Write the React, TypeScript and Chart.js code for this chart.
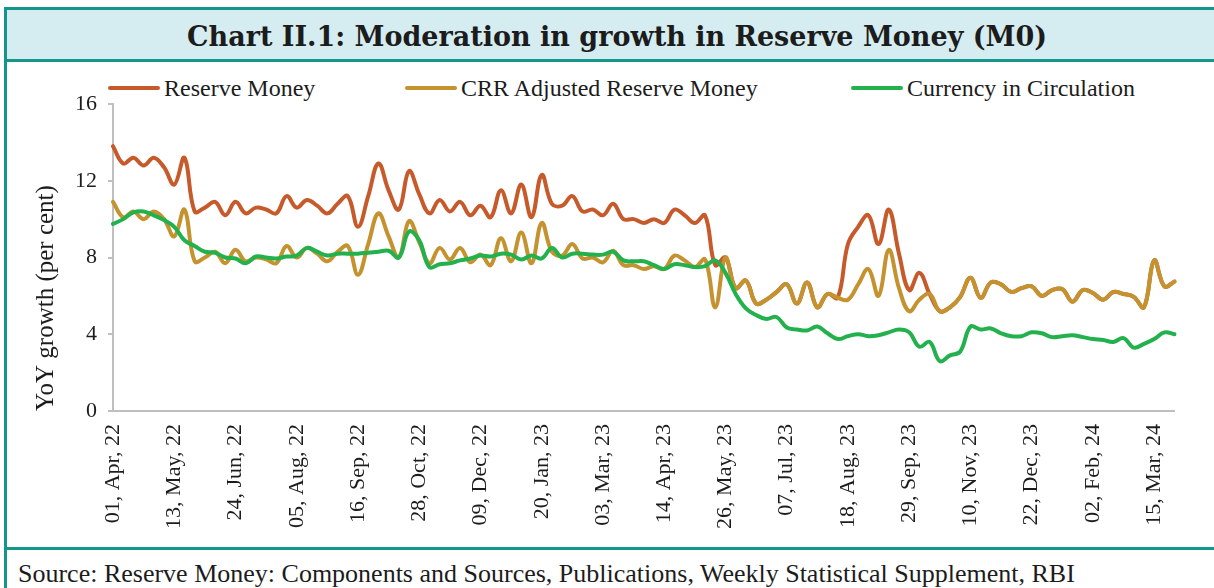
import React, { useEffect, useRef } from 'react';
import { Chart, registerables } from 'chart.js';

Chart.register(...registerables);

// ---------- data ----------
const MONTHS = ['Jan', 'Feb', 'Mar', 'Apr', 'May', 'Jun', 'Jul', 'Aug', 'Sep', 'Oct', 'Nov', 'Dec'];
const WEEK_COUNT = 105;
// weekly reporting Fridays, starting 01 Apr 2022
const categories: string[] = Array.from({ length: WEEK_COUNT }, (_, i) => {
  const d = new Date(Date.UTC(2022, 3, 1 + 7 * i));
  const dd = String(d.getUTCDate()).padStart(2, '0');
  const yy = String(d.getUTCFullYear()).slice(2);
  return `${dd}, ${MONTHS[d.getUTCMonth()]}, ${yy}`;
});

const tickLabels = [
  '01, Apr, 22', '13, May, 22', '24, Jun, 22', '05, Aug, 22', '16, Sep, 22', '28, Oct, 22',
  '09, Dec, 22', '20, Jan, 23', '03, Mar, 23', '14, Apr, 23', '26, May, 23', '07, Jul, 23',
  '18, Aug, 23', '29, Sep, 23', '10, Nov, 23', '22, Dec, 23', '02, Feb, 24', '15, Mar, 24',
];

const reserveMoney = [
  13.8, 12.9, 13.2, 12.8, 13.2, 12.7, 11.8, 13.2, 10.4, 10.6,
  10.9, 10.2, 10.9, 10.3, 10.6, 10.5, 10.3, 11.2, 10.6, 11.0,
  10.7, 10.3, 10.8, 11.2, 9.6, 11.2, 12.9, 11.5, 10.5, 12.5,
  11.3, 10.3, 11.0, 10.4, 10.9, 10.2, 10.7, 10.1, 11.5, 10.3,
  11.8, 10.1, 12.3, 10.8, 10.7, 11.2, 10.4, 10.5, 10.2, 10.8,
  10.0, 10.0, 9.8, 10.0, 9.8, 10.5, 10.2, 9.8, 10.2, 7.6,
  8.0, 6.4, 6.8, 5.6, 5.8, 6.2, 6.6, 5.6, 6.7, 5.4,
  6.1, 5.9, 8.7, 9.6, 10.2, 8.7, 10.5, 8.2, 6.3, 7.2,
  6.1, 5.2, 5.4, 5.95, 6.95, 5.9, 6.7, 6.6, 6.2, 6.4,
  6.5, 6.0, 6.3, 6.35, 5.7, 6.3, 6.15, 5.8, 6.2, 6.1,
  5.95, 5.4, 7.85, 6.5, 6.75,
];

const crrAdjustedReserveMoney = [
  10.9, 10.1, 10.4, 10.0, 10.4, 10.0, 9.1, 10.5, 7.8, 8.0,
  8.3, 7.7, 8.4, 7.8, 8.0, 7.9, 7.7, 8.6, 8.0, 8.5,
  8.2, 7.8, 8.3, 8.6, 7.1, 8.7, 10.3, 9.1, 8.0, 9.9,
  8.8, 7.7, 8.5, 7.9, 8.5, 7.75, 8.15, 7.6, 9.0, 7.8,
  9.3, 7.7, 9.8, 8.3, 8.1, 8.7, 7.95, 8.0, 7.75, 8.35,
  7.6, 7.6, 7.4, 7.55, 7.4, 8.1, 7.85, 7.5, 7.9, 5.4,
  8.0, 6.4, 6.8, 5.6, 5.8, 6.2, 6.6, 5.6, 6.7, 5.4,
  6.1, 5.9, 5.8, 6.6, 7.4, 6.0, 8.4, 6.4, 5.2, 5.8,
  6.1, 5.2, 5.4, 5.95, 6.95, 5.9, 6.7, 6.6, 6.2, 6.4,
  6.5, 6.0, 6.3, 6.35, 5.7, 6.3, 6.15, 5.8, 6.2, 6.1,
  5.95, 5.4, 7.85, 6.5, 6.75,
];

const currencyInCirculation = [
  9.75, 10.0, 10.35, 10.4, 10.2, 9.95, 9.6, 8.9, 8.6, 8.3,
  8.25, 8.0, 7.95, 7.7, 8.05, 8.0, 7.95, 8.05, 8.1, 8.5,
  8.3, 8.1, 8.2, 8.2, 8.2, 8.25, 8.3, 8.35, 8.0, 9.35,
  8.9, 7.5, 7.65, 7.7, 7.85, 7.95, 8.1, 8.05, 8.2, 8.15,
  7.9, 8.1, 7.95, 8.5, 8.0, 8.2, 8.2, 8.15, 8.15, 8.3,
  7.85, 7.8, 7.8, 7.6, 7.4, 7.65, 7.6, 7.5, 7.55, 7.85,
  7.2, 6.1, 5.35, 5.0, 4.8, 4.9, 4.35, 4.25, 4.2, 4.4,
  4.05, 3.75, 3.9, 4.0, 3.9, 3.95, 4.1, 4.25, 4.1, 3.35,
  3.6, 2.6, 2.9, 3.1, 4.4, 4.25, 4.3, 4.05, 3.9, 3.9,
  4.1, 4.05, 3.85, 3.9, 3.95, 3.85, 3.75, 3.7, 3.6, 3.8,
  3.3, 3.5, 3.75, 4.1, 4.0,
];

const seriesNames = ['Reserve Money', 'CRR Adjusted Reserve Money', 'Currency in Circulation'];
const seriesColors = ['#C75A2B', '#C4922F', '#22B14C'];

const yTicks = [0, 4, 8, 12, 16];

const TITLE = 'Chart II.1: Moderation in growth in Reserve Money (M0)';
const SOURCE = 'Source: Reserve Money: Components and Sources, Publications, Weekly Statistical Supplement, RBI';
const Y_TITLE = 'YoY growth (per cent)';

// ---------- styles ----------
const TEAL = '#14968B';
const BAND = '#D5ECF0';
const TEXT = '#1c1c1c';
const AXIS = '#BFBFBF';
const SERIF = "'Liberation Serif', 'Times New Roman', serif";

export default function App() {
  const canvasRef = useRef<HTMLCanvasElement | null>(null);

  useEffect(() => {
    document.body.style.margin = '0';
    const canvas = canvasRef.current;
    if (!canvas) return;
    const values = [reserveMoney, crrAdjustedReserveMoney, currencyInCirculation];
    const chart = new Chart(canvas, {
      type: 'line',
      data: {
        labels: categories,
        datasets: seriesNames.map((name, k) => ({
          label: name,
          data: values[k],
          borderColor: seriesColors[k],
          backgroundColor: seriesColors[k],
          borderWidth: 4,
          pointRadius: 0,
          tension: 0.4,
          borderCapStyle: 'round' as const,
          borderJoinStyle: 'round' as const,
          order: 3 - k,
        })),
      },
      options: {
        animation: false,
        responsive: false,
        maintainAspectRatio: false,
        layout: { padding: { top: 39, right: 31, left: 0, bottom: 0 } },
        plugins: {
          legend: { display: false },
          tooltip: { enabled: false },
        },
        scales: {
          x: {
            type: 'category',
            grid: { display: false, drawTicks: false },
            border: { display: true, color: AXIS, width: 2 },
            ticks: {
              autoSkip: false,
              minRotation: 90,
              maxRotation: 90,
              padding: 13,
              color: TEXT,
              font: { family: SERIF, size: 22 },
              callback: (_v: any, i: number) => (tickLabels.includes(categories[i]) ? categories[i] : ''),
            },
            afterFit: (scale: any) => {
              scale.height = 136;
            },
          },
          y: {
            min: 0,
            max: 16,
            afterBuildTicks: (scale: any) => {
              scale.ticks = yTicks.map((v) => ({ value: v }));
            },
            grid: { display: true, drawOnChartArea: false, drawTicks: true, tickLength: 5, color: AXIS, lineWidth: 2 },
            border: { display: true, color: AXIS, width: 2 },
            ticks: {
              padding: 11,
              color: TEXT,
              font: { family: SERIF, size: 22 },
            },
            title: {
              display: true,
              text: Y_TITLE,
              align: 'start',
              color: TEXT,
              font: { family: SERIF, size: 25 },
              padding: { top: 24, bottom: 0 },
            },
            afterFit: (scale: any) => {
              scale.width = 106;
            },
          },
        },
      },
    });
    return () => chart.destroy();
  }, []);

  const legendItems = [
    { left: 108 },
    { left: 405 },
    { left: 851 },
  ];

  return (
    <div
      style={{
        position: 'absolute',
        left: 0,
        top: 0,
        width: 1214,
        height: 588,
        background: '#fff',
        overflow: 'hidden',
        fontFamily: SERIF,
        color: TEXT,
      }}
    >
      <div
        style={{
          position: 'absolute',
          left: 4,
          top: 7,
          width: 1230,
          height: 600,
          borderLeft: `3px solid ${TEAL}`,
          borderTop: `3px solid ${TEAL}`,
        }}
      />
      <div
        style={{
          position: 'absolute',
          left: 7,
          top: 10,
          width: 1207,
          height: 52,
          background: BAND,
          borderBottom: `3px solid ${TEAL}`,
          display: 'flex',
          alignItems: 'center',
          justifyContent: 'center',
          paddingLeft: 13,
          paddingTop: 4,
          boxSizing: 'border-box',
          fontFamily: "'DejaVu Serif', serif",
          fontWeight: 'bold',
          fontSize: 27,
          whiteSpace: 'nowrap',
        }}
      >
        {TITLE}
      </div>
      {seriesNames.map((name, k) => (
        <div
          key={name}
          style={{
            position: 'absolute',
            left: legendItems[k].left,
            top: 74,
            height: 28,
            display: 'flex',
            alignItems: 'center',
            fontSize: 24,
            whiteSpace: 'nowrap',
          }}
        >
          <span
            style={{
              display: 'inline-block',
              width: 52,
              height: 4,
              borderRadius: 2,
              background: seriesColors[k],
              marginRight: 4,
            }}
          />
          <span>{name}</span>
        </div>
      ))}
      <canvas
        ref={canvasRef}
        width={1207}
        height={482}
        style={{ position: 'absolute', left: 7, top: 65, width: 1207, height: 482 }}
      />
      <div
        style={{
          position: 'absolute',
          left: 7,
          top: 547,
          width: 1207,
          height: 0,
          borderTop: `3px solid ${TEAL}`,
        }}
      />
      <div
        style={{
          position: 'absolute',
          left: 18,
          top: 559,
          fontSize: 26,
          whiteSpace: 'nowrap',
        }}
      >
        {SOURCE}
      </div>
    </div>
  );
}
